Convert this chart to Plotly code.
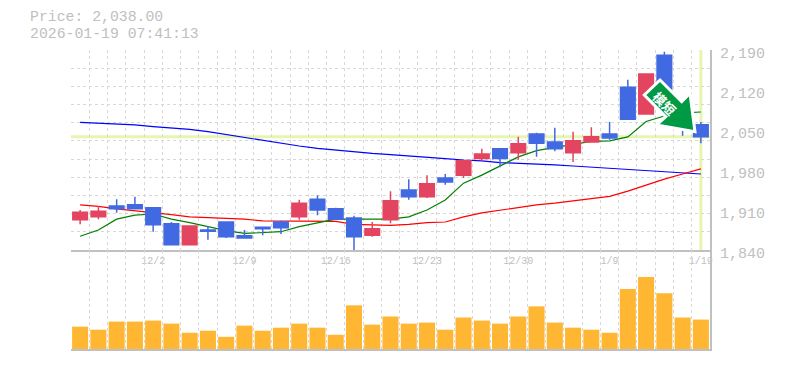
import plotly.graph_objects as go

days = list(range(35))
opens  = [1893,1898,1917,1919,1914,1886,1849,1875,1889,1865,1880,1889,1898,1929,1912,1896,1866,1893,1945,1933,1966,1971,2000,2017,2010,2043,2029,2010,2029,2043,2125,2078,2181,2085,2059]
highs  = [1910,1917,1929,1933,1914,1889,1882,1882,1889,1875,1880,1891,1928,1936,1914,1900,1889,1943,1964,1971,1973,1996,2017,2017,2038,2045,2054,2047,2055,2064,2138,2148,2187,2094,2064]
lows   = [1885,1894,1905,1912,1872,1849,1849,1858,1861,1861,1866,1868,1893,1901,1894,1840,1863,1887,1928,1931,1954,1966,1996,1985,1998,2003,2013,1994,2029,2033,2069,2078,2111,2040,2027]
closes = [1906,1908,1912,1912,1884,1849,1882,1873,1863,1861,1877,1879,1922,1910,1894,1863,1877,1926,1933,1956,1959,1996,2008,2000,2026,2027,2017,2031,2038,2036,2069,2148,2111,2059,2038]
ma_long = [2063.5,2062,2060,2059,2056,2053.5,2051,2047,2042,2036,2031,2026,2022,2018,2015,2011,2009,2007,2005,2002,2000,1997.5,1996,1993,1992,1990.5,1989,1987,1985,1983.5,1981,1979,1977,1976,1973]
ma_mid = [1919,1916.5,1912,1909,1906,1902,1898,1897,1895,1894,1891,1891,1890,1890,1890,1885,1884,1883,1885,1888,1889,1898,1905,1910,1915,1919,1922,1926,1929,1934,1943,1954,1964,1973,1982]
ma_short = [1864,1875,1894,1901,1903,1894,1888,1881,1874,1869,1871,1872,1881,1888,1894,1894,1894,1894,1898,1910,1927.5,1957,1971,1987,2003,2014,2020,2025,2030,2031,2038,2065,2074.5,2080,2081.5]
volumes = [22,19,27,27,28,25,16,18,12,23,18,21,25,21,14,43,24,32,25,26,19,31,28,25,32,42,26,21,19,16,59,71,55,31,29]
date_ticks = [4,9,14,19,24,29,34]
date_labels = ["12/2","12/9","12/16","12/23","12/30","1/9","1/19"]
price_ticks = [1840,1910,1980,2050,2120,2190]
price_labels = ["1,840","1,910","1,980","2,050","2,120","2,190"]
last_price = 2038
title_lines = ["Price: 2,038.00", "2026-01-19 07:41:13"]
arrow_text = "模短"

FONT = "Liberation Mono"
GRAY = "#c0c0c0"
GRID = "#d8d8d8"
DASH = "3px,3px"
L, R, T, B = 71, 710, 50, 349
def px(x): return (x - L) / (R - L)
def py(y): return (B - y) / (B - T)
split = py(250)
xr = [-0.5, 34.5]
yr = [1840, 2190]

fig = go.Figure()
fig.add_trace(go.Scatter(x=days, y=ma_long, mode="lines", line=dict(color="#0000ff", width=1.2), xaxis="x", yaxis="y"))
fig.add_trace(go.Scatter(x=days, y=ma_mid, mode="lines", line=dict(color="#ff0000", width=1.2), xaxis="x", yaxis="y"))
fig.add_trace(go.Scatter(x=days, y=ma_short, mode="lines", line=dict(color="#008000", width=1.2), xaxis="x", yaxis="y"))
fig.add_trace(go.Bar(x=days, y=volumes, width=0.88, marker=dict(color="#ffb733", line=dict(width=0)), xaxis="x2", yaxis="y2"))
fig.add_trace(go.Candlestick(x=days, open=opens, high=highs, low=lows, close=closes, xaxis="x3", yaxis="y3",
    increasing=dict(line=dict(color="#e34560", width=1.5), fillcolor="#e34560"),
    decreasing=dict(line=dict(color="#4169e1", width=1.5), fillcolor="#4169e1"),
    whiskerwidth=0))

grid_x = dict(range=xr, tick0=-0.5, dtick=1, showgrid=True, gridcolor=GRID, griddash=DASH, gridwidth=1,
              showticklabels=False, ticks="", zeroline=False)
shapes = [
    dict(type="line", xref="paper", x0=0, x1=1, yref="y", y0=last_price, y1=last_price, layer="below",
         line=dict(color="#e6f5b0", width=3)),
    dict(type="line", xref="x", x0=34, x1=34, yref="y", y0=yr[0], y1=yr[1], layer="below",
         line=dict(color="#e6f5b0", width=3)),
]
pts = [(660,80),(681.7,101.7),(690,93.3),(695,131.7),(656.7,125),(665.7,116.7),(644.3,95)]
path = "M " + " L ".join(f"{px(a):.4f},{py(b):.4f}" for a, b in pts) + " Z"
shapes.append(dict(type="path", xref="paper", yref="paper", path=path, layer="above",
                   fillcolor="#009944", line=dict(color="#ffffff", width=3)))

annotations = [
    dict(xref="paper", yref="paper", x=px(28), y=py(17.2), text=title_lines[0], showarrow=False, xanchor="left", yanchor="middle",
         font=dict(family=FONT, size=14.8, color=GRAY)),
    dict(xref="paper", yref="paper", x=px(28), y=py(34), text=title_lines[1], showarrow=False, xanchor="left", yanchor="middle",
         font=dict(family=FONT, size=14.8, color=GRAY)),
    dict(xref="paper", yref="paper", x=px(665), y=py(103), text=arrow_text, showarrow=False, textangle=45, xanchor="center", yanchor="middle",
         font=dict(family="Noto Sans CJK JP, Noto Sans CJK SC, sans-serif", size=13, weight=700, color="#ffffff")),
]

fig.update_layout(
    width=785, height=370, autosize=False, showlegend=False,
    margin=dict(l=L, r=785 - R, t=T, b=370 - B, pad=0, autoexpand=False),
    paper_bgcolor="#ffffff", plot_bgcolor="#ffffff",
    barmode="overlay", boxgap=0.2, boxgroupgap=0, hovermode=False,
    shapes=shapes, annotations=annotations,
    xaxis=dict(**grid_x, domain=[0, 1], anchor="y", showline=True, linecolor=GRAY, linewidth=2),
    yaxis=dict(domain=[split, 1], range=yr, anchor="x", tick0=1840, dtick=350 / 11, showgrid=True, gridcolor=GRID,
               griddash=DASH, gridwidth=1, showticklabels=False, ticks="", zeroline=False),
    xaxis2=dict(**grid_x, domain=[0, 1], anchor="y2", showline=True, linecolor=GRAY, linewidth=2),
    yaxis2=dict(domain=[0, split], range=[0, 97.5], anchor="x2", side="right", showgrid=False, showticklabels=False,
                ticks="", zeroline=False, showline=True, linecolor=GRAY, linewidth=2),
    xaxis3=dict(domain=[0, 1], range=xr, anchor="y3", overlaying="x", tickmode="array", tickvals=date_ticks, ticktext=date_labels,
                showgrid=False, zeroline=False, ticks="", side="bottom", rangeslider=dict(visible=False),
                ticklabelstandoff=3, tickfont=dict(family=FONT, size=10, color=GRAY), tickangle=0),
    yaxis3=dict(domain=[split, 1], range=yr, anchor="x3", overlaying="y", side="right", tickmode="array", tickvals=price_ticks,
                ticktext=price_labels, showgrid=False, zeroline=False, ticks="", showline=True, linecolor=GRAY, linewidth=2,
                ticklabelshift=3, ticklabelstandoff=5, tickfont=dict(family=FONT, size=15, color=GRAY)),
)
fig.write_html("out.html", post_script="document.body.style.margin='0';", config=dict(displayModeBar=False))
